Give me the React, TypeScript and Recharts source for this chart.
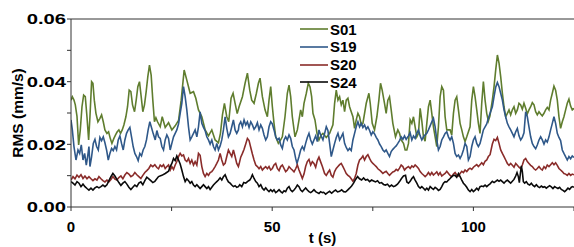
import React from 'react';
import { LineChart, Line, XAxis, YAxis, ReferenceLine, Legend, Label } from 'recharts';

const FONT = '"Liberation Sans", Arial, Helvetica, sans-serif';

const seriesNames = ['S01', 'S19', 'S20', 'S24'];
const seriesColors = ['#5f7d2e', '#2f5889', '#8a2c2a', '#0a0a0a'];
const xTicks = [0, 25, 50, 75, 100, 125];
const xTickLabels = [0, 50, 100];
const yTicks = [0, 0.01, 0.02, 0.03, 0.04, 0.05, 0.06];
const yTickLabels = [0, 0.02, 0.04, 0.06];

// [t (s), RMS in 1e-3 mm/s]
const s01 = [
[0,34.1],[0.33,35.2],[0.74,34.1],[1.07,32.6],[1.49,28.9],[1.9,19.8],[2.31,24.6],[2.73,32.0],[3.14,35.7],[3.55,35.2],[3.97,28.8],[4.38,21.4],[4.71,28.8],[5.12,40.0],[5.45,39.5],[5.79,34.1],[6.2,29.9],[6.69,27.2],[7.19,28.3],[7.6,29.4],[8.02,27.2],[8.43,24.6],[8.93,23.5],[9.34,24.0],[9.75,21.9],[10.17,20.3],[10.66,21.9],[11.07,23.0],[11.49,24.0],[11.9,24.6],[12.31,23.5],[12.73,24.6],[13.14,26.2],[13.64,28.8],[14.05,32.0],[14.46,37.3],[14.88,36.8],[15.29,32.6],[15.79,30.4],[16.2,34.1],[16.61,38.4],[17.02,40.0],[17.44,35.2],[17.85,30.4],[18.26,32.6],[18.68,36.8],[19.09,41.6],[19.5,45.3],[19.92,42.1],[20.33,34.1],[20.74,27.2],[21.1,28.5],[21.5,27.2],[22.17,25.6],[22.67,28.8],[23.41,25.4],[24.24,26.9],[25.06,24.6],[25.89,25.9],[26.72,27.6],[27.38,34.1],[28.12,43.7],[28.78,40.5],[29.61,36.3],[30.44,36.8],[31.02,34.7],[31.68,31.0],[32.51,28.8],[33.34,24.6],[34.16,22.7],[34.99,24.6],[35.82,21.4],[36.64,20.5],[37.14,23.5],[37.64,29.4],[38.13,33.1],[38.71,28.8],[39.2,27.2],[39.78,34.7],[40.28,36.3],[40.78,33.1],[41.3,29.8],[41.77,32.0],[42.6,35.2],[43.26,39.5],[43.84,42.7],[44.42,37.3],[44.91,34.1],[45.49,33.1],[46.07,36.3],[46.57,39.5],[46.98,41.1],[47.56,35.2],[48.22,31.0],[48.8,28.8],[49.21,34.1],[49.63,38.4],[50.04,32.0],[50.45,26.7],[50.87,22.4],[51.53,20.3],[52.1,21.4],[52.52,22.4],[53.18,28.8],[53.76,36.3],[54.18,38.9],[54.59,35.2],[55.0,28.8],[55.67,22.4],[56.25,24.6],[56.66,27.8],[57.07,31.0],[57.49,28.8],[57.9,33.1],[58.48,36.3],[58.97,39.5],[59.39,38.4],[59.8,35.2],[60.13,29.9],[60.63,27.8],[61.13,23.5],[61.62,21.4],[62.2,23.0],[62.61,23.5],[63.44,22.2],[64.27,23.5],[65.09,26.2],[65.51,33.1],[65.92,37.3],[66.34,34.1],[66.75,35.2],[67.16,32.6],[67.58,34.1],[67.99,30.4],[68.4,34.1],[68.82,34.7],[69.23,32.0],[69.64,30.4],[70.06,28.8],[70.47,25.1],[70.88,27.8],[71.3,29.9],[71.71,28.8],[72.13,26.2],[72.54,26.7],[73.37,33.1],[74.03,36.3],[74.36,33.1],[74.86,26.7],[75.43,24.6],[76.01,28.8],[76.51,34.1],[76.92,39.5],[77.33,37.3],[77.91,33.1],[78.32,29.9],[78.74,34.1],[79.15,35.2],[79.57,31.0],[79.98,26.7],[80.64,22.4],[81.22,24.6],[81.64,23.5],[82.05,21.4],[82.63,20.3],[83.04,18.2],[83.46,18.2],[83.87,20.3],[84.28,27.8],[84.7,26.7],[85.11,28.8],[85.52,25.6],[85.94,22.4],[86.35,23.5],[86.77,31.5],[87.18,27.5],[87.59,22.4],[88.0,21.0],[88.42,26.7],[88.83,32.0],[89.25,34.1],[89.66,29.9],[90.07,25.6],[90.49,22.4],[90.9,19.3],[91.31,25.6],[91.73,35.2],[92.14,38.4],[92.56,37.3],[92.97,28.8],[93.38,24.6],[94.21,24.6],[94.62,23.0],[95.04,29.9],[95.45,34.1],[95.86,35.2],[96.28,31.0],[96.69,26.7],[97.11,24.6],[97.52,22.4],[97.93,20.9],[98.35,22.4],[99.17,25.6],[99.59,34.1],[100.0,38.4],[100.41,35.2],[100.83,31.0],[101.24,26.7],[101.65,23.5],[102.07,33.1],[102.48,40.0],[102.9,34.1],[103.31,29.9],[103.72,27.5],[104.1,29.0],[104.71,34.1],[105.13,38.4],[105.54,43.7],[105.96,48.5],[106.37,45.9],[106.78,41.6],[107.2,36.3],[107.61,32.0],[108.02,28.8],[108.44,29.9],[108.85,31.0],[109.26,29.4],[109.68,31.0],[110.09,32.0],[110.51,29.9],[110.92,31.0],[111.33,33.1],[111.75,32.6],[112.16,31.2],[112.57,33.1],[112.99,31.5],[113.4,29.7],[113.81,31.0],[114.23,32.0],[114.64,33.3],[115.06,32.6],[115.47,30.4],[115.88,29.4],[116.3,30.4],[116.71,29.7],[117.12,29.1],[117.54,29.9],[117.95,31.0],[118.36,31.8],[118.78,31.0],[119.19,34.1],[119.61,36.3],[120.02,38.6],[120.43,37.3],[120.85,34.1],[121.26,28.8],[121.67,25.1],[122.09,27.2],[122.5,28.8],[122.92,31.0],[123.33,33.1],[123.74,34.4],[124.16,32.2],[124.57,31.0],[125,31.5]
];

const s19 = [
[0,27.8],[0.33,24.6],[0.74,19.3],[1.24,15.0],[1.74,18.2],[2.15,17.1],[2.56,19.8],[2.98,15.0],[3.39,17.1],[3.8,13.4],[4.13,16.1],[4.46,19.3],[4.71,12.9],[5.12,16.1],[5.54,20.3],[5.95,21.6],[6.36,19.3],[6.78,18.2],[7.19,22.2],[7.6,21.2],[8.02,22.4],[8.43,20.5],[8.84,18.2],[9.26,15.0],[9.67,17.1],[10.08,18.7],[10.5,18.0],[10.91,19.3],[11.32,18.2],[11.74,21.4],[12.15,22.7],[12.56,20.3],[12.98,18.2],[13.39,21.4],[13.8,23.5],[14.21,24.6],[14.63,25.4],[15.04,22.4],[15.45,19.3],[15.87,17.1],[16.28,16.1],[16.69,14.8],[17.11,17.1],[17.52,16.3],[17.93,18.2],[18.35,19.3],[18.76,21.4],[19.17,24.6],[19.59,27.2],[20.0,25.4],[20.41,23.5],[20.93,21.4],[21.34,24.4],[21.75,22.4],[22.17,21.9],[22.58,19.3],[22.99,18.2],[23.41,21.4],[23.82,23.0],[24.24,21.9],[24.65,18.2],[25.06,20.3],[25.48,22.4],[25.89,23.5],[26.3,24.6],[26.72,26.5],[27.13,29.9],[27.54,33.1],[27.96,38.4],[28.37,35.2],[28.78,31.0],[29.2,25.6],[29.61,21.4],[30.02,22.4],[30.44,23.5],[30.85,24.6],[31.27,22.4],[31.68,25.6],[32.09,30.4],[32.51,26.7],[32.92,25.4],[33.33,24.4],[33.75,22.4],[34.16,21.4],[34.57,20.1],[34.99,21.4],[35.4,19.3],[35.81,18.2],[36.23,20.3],[36.64,18.2],[37.06,19.5],[37.47,21.4],[37.88,24.6],[38.3,28.8],[38.71,25.1],[39.12,22.4],[39.54,23.5],[39.95,25.6],[40.36,27.8],[40.78,24.6],[41.19,23.5],[41.6,24.6],[41.77,26.2],[42.18,27.2],[42.6,25.6],[43.01,27.8],[43.42,26.2],[43.84,27.2],[44.25,25.4],[44.67,27.2],[45.08,26.2],[45.49,24.8],[45.91,25.6],[46.32,26.9],[46.73,24.6],[47.15,26.2],[47.56,25.1],[47.97,23.0],[48.39,21.4],[48.8,22.4],[49.21,25.6],[49.63,27.2],[50.04,26.5],[50.45,24.6],[50.87,22.4],[51.28,21.4],[51.7,21.9],[52.11,19.8],[52.52,18.7],[52.94,21.4],[53.35,22.4],[53.76,21.4],[54.18,23.0],[54.59,21.9],[55.0,19.3],[55.42,18.2],[55.83,15.5],[56.16,13.9],[56.66,16.1],[57.07,18.2],[57.49,19.3],[57.9,18.2],[58.31,20.3],[58.73,22.2],[59.14,23.5],[59.56,21.4],[59.97,20.1],[60.38,21.4],[60.8,22.7],[61.21,20.9],[61.62,24.6],[62.04,23.0],[62.61,21.4],[63.03,23.5],[63.44,25.6],[63.85,24.4],[64.27,20.3],[64.68,16.1],[65.09,18.2],[65.51,20.3],[65.92,22.2],[66.34,23.5],[66.75,21.4],[67.16,22.4],[67.58,23.5],[67.99,20.3],[68.4,19.0],[68.82,18.0],[69.23,18.7],[69.64,18.0],[70.06,21.4],[70.47,23.5],[70.88,25.6],[71.3,27.2],[71.71,25.6],[72.13,26.7],[72.54,25.4],[72.95,26.2],[73.37,24.8],[73.78,25.6],[74.2,24.4],[74.61,23.0],[75.02,24.0],[75.44,23.3],[75.85,22.2],[76.26,21.4],[76.68,20.1],[77.09,19.3],[77.51,18.2],[77.92,17.6],[78.32,18.2],[78.74,17.1],[79.15,16.1],[79.57,17.7],[79.98,18.4],[80.4,19.0],[80.81,19.5],[81.22,20.3],[81.64,21.2],[82.05,22.4],[82.47,21.6],[82.88,22.7],[83.29,21.6],[83.87,22.7],[84.28,23.7],[84.7,21.4],[85.11,22.7],[85.52,21.9],[85.94,23.5],[86.35,24.6],[86.77,22.7],[87.18,21.4],[87.59,22.4],[88.01,23.0],[88.42,23.5],[88.83,24.6],[89.25,25.9],[89.66,27.2],[90.07,28.3],[90.49,25.6],[90.9,21.4],[91.31,18.2],[91.73,19.3],[92.14,21.4],[92.56,22.4],[92.97,23.5],[93.38,24.0],[93.8,22.4],[94.21,21.4],[94.62,22.4],[95.04,20.3],[95.45,17.1],[95.86,16.1],[96.28,16.6],[96.69,15.5],[97.11,16.6],[97.52,18.2],[97.93,20.3],[98.35,19.3],[98.76,15.0],[99.17,16.1],[99.59,19.3],[100.0,21.4],[100.41,22.4],[100.83,20.3],[101.24,19.3],[101.65,20.3],[102.07,22.4],[102.48,24.6],[102.9,25.6],[103.31,26.5],[103.72,28.3],[104.14,29.9],[104.71,32.0],[105.13,35.2],[105.54,38.2],[105.96,39.7],[106.37,38.4],[106.78,36.3],[107.2,34.1],[107.61,31.0],[108.02,28.8],[108.44,26.7],[108.85,25.6],[109.26,24.6],[109.68,23.5],[110.09,22.4],[110.51,24.0],[110.92,25.1],[111.33,22.7],[111.75,21.4],[112.16,22.2],[112.57,23.7],[112.99,30.4],[113.4,28.8],[113.81,25.6],[114.23,22.4],[114.64,20.3],[115.06,19.3],[115.47,18.6],[115.88,19.8],[116.3,21.4],[116.71,22.4],[117.12,21.4],[117.54,20.1],[117.95,21.4],[118.36,20.7],[118.78,22.4],[119.19,24.6],[119.61,26.7],[120.02,28.8],[120.43,26.7],[120.85,23.5],[121.26,22.2],[121.67,21.2],[122.09,18.2],[122.5,17.1],[123.33,15.0],[123.74,16.1],[124.16,15.4],[124.57,16.3],[125,15.8]
];

const s20 = [
[0,8.6],[0.5,9.7],[0.99,9.0],[1.49,10.2],[1.98,9.5],[2.48,10.3],[2.98,9.1],[3.47,9.9],[3.97,9.0],[4.46,9.7],[4.96,9.0],[5.45,8.4],[5.95,9.0],[6.45,8.6],[6.94,9.7],[7.44,9.0],[7.93,8.4],[8.43,8.0],[8.93,8.6],[9.42,8.0],[9.92,8.8],[10.41,9.7],[10.91,8.9],[11.4,8.6],[11.9,9.4],[12.4,9.9],[12.89,9.0],[13.39,10.2],[13.88,11.0],[14.38,10.5],[14.88,9.7],[15.37,10.1],[15.87,11.0],[16.36,10.3],[16.86,9.7],[17.36,9.1],[17.85,10.1],[18.35,11.0],[18.84,11.6],[19.34,12.3],[19.83,13.4],[20.33,12.9],[20.83,13.5],[21.34,12.6],[21.75,12.2],[22.17,13.4],[22.58,12.9],[22.99,13.5],[23.41,12.3],[23.82,12.9],[24.24,13.4],[24.65,11.8],[25.06,12.9],[25.48,12.0],[25.89,13.4],[26.3,14.5],[26.72,16.1],[27.13,17.1],[27.54,16.3],[27.96,16.6],[28.37,15.0],[28.78,14.5],[29.2,15.5],[29.61,13.9],[30.02,15.0],[30.44,13.4],[30.85,14.5],[31.27,13.4],[31.68,17.1],[32.09,16.5],[32.51,12.9],[32.92,10.7],[33.33,9.7],[33.75,10.7],[34.16,10.1],[34.57,11.0],[34.99,11.3],[35.4,12.0],[35.81,12.9],[36.23,13.9],[36.64,15.0],[37.06,17.1],[37.47,15.0],[37.88,13.4],[38.3,13.9],[38.71,16.1],[39.12,18.2],[39.54,17.1],[39.95,16.1],[40.36,18.2],[40.78,16.1],[41.19,13.9],[41.6,12.9],[41.77,13.7],[42.18,15.9],[42.6,17.1],[43.01,18.4],[43.42,20.1],[43.84,21.9],[44.25,21.2],[44.67,19.0],[45.08,16.9],[45.49,15.0],[45.91,13.4],[46.32,12.9],[46.73,12.2],[47.15,12.9],[47.56,11.8],[47.97,12.4],[48.39,12.9],[48.8,12.2],[49.21,12.9],[49.63,11.8],[50.04,12.3],[50.45,13.4],[50.87,13.9],[51.28,12.3],[51.7,11.6],[52.11,12.9],[52.52,13.4],[52.94,12.3],[53.35,11.3],[53.76,11.8],[54.18,12.9],[54.59,12.3],[55.0,11.8],[55.42,11.2],[55.83,12.2],[56.25,13.4],[56.66,11.8],[57.07,10.5],[57.49,9.1],[57.9,10.5],[58.31,12.9],[58.73,14.5],[59.14,15.2],[59.56,13.4],[59.97,14.5],[60.38,13.9],[60.8,12.7],[61.21,14.8],[61.62,15.9],[62.04,14.4],[62.45,13.0],[63.03,10.7],[63.44,10.1],[63.85,11.0],[64.27,11.8],[64.68,10.1],[65.09,9.5],[65.51,11.3],[65.92,12.3],[66.34,12.9],[66.75,13.5],[67.16,13.9],[67.58,12.9],[67.99,11.8],[68.4,10.7],[68.82,10.1],[69.23,9.7],[69.64,9.0],[70.06,8.2],[70.47,9.1],[70.88,10.7],[71.3,13.4],[71.71,15.0],[72.13,15.5],[72.54,16.3],[72.95,15.0],[73.37,16.1],[73.78,16.7],[74.2,15.5],[74.61,14.5],[75.02,13.9],[75.44,13.4],[75.85,12.9],[76.26,12.2],[76.68,11.8],[77.09,11.3],[77.51,10.7],[77.92,11.1],[78.32,11.4],[78.74,10.7],[79.15,10.1],[79.57,10.7],[79.98,11.2],[80.4,11.4],[80.81,12.0],[81.22,11.6],[81.64,12.4],[82.05,13.4],[82.47,12.9],[82.88,11.8],[83.29,12.4],[83.87,12.9],[84.28,12.3],[84.7,13.1],[85.11,12.7],[85.52,13.4],[85.94,12.9],[86.35,12.3],[86.77,11.3],[87.18,10.7],[87.59,10.2],[88.01,9.7],[88.42,10.2],[88.83,11.0],[89.25,10.2],[89.66,11.0],[90.07,10.2],[90.49,10.7],[90.9,11.2],[91.31,10.2],[91.73,11.0],[92.14,9.9],[92.56,10.3],[92.97,10.7],[93.38,11.4],[93.8,10.7],[94.21,10.1],[94.62,9.7],[95.04,10.5],[95.45,11.0],[95.86,10.2],[96.28,9.9],[96.69,10.7],[97.11,11.4],[97.52,11.0],[97.93,11.8],[98.35,11.3],[98.76,12.0],[99.17,12.4],[99.59,12.0],[100.0,12.7],[100.41,13.1],[100.83,13.5],[101.24,12.9],[101.65,13.5],[102.07,14.1],[102.48,13.5],[102.9,14.6],[103.31,15.0],[103.72,16.1],[104.14,16.7],[104.71,20.1],[105.13,21.6],[105.54,21.2],[105.96,22.2],[106.37,20.3],[106.78,18.2],[107.2,17.1],[107.61,16.1],[108.02,15.0],[108.44,13.9],[108.85,13.3],[109.26,13.9],[109.68,13.3],[110.09,12.7],[110.51,13.9],[110.92,13.3],[111.33,12.7],[111.75,12.2],[112.16,13.4],[112.57,15.0],[112.99,15.5],[113.4,14.5],[113.81,13.9],[114.23,13.3],[114.64,12.9],[115.06,12.2],[115.47,11.8],[115.88,12.3],[116.3,12.9],[116.71,12.2],[117.12,11.8],[117.54,12.9],[117.95,12.3],[118.36,13.4],[118.78,12.9],[119.19,13.5],[119.61,14.1],[120.02,13.5],[120.43,14.1],[120.85,13.3],[121.26,12.3],[121.67,11.8],[122.09,11.3],[122.5,10.7],[122.92,10.5],[123.33,10.1],[123.74,10.7],[124.16,10.1],[124.57,10.5],[125,10.3]
];

const s24 = [
[0,8.1],[0.5,7.6],[0.99,7.0],[1.49,8.1],[1.98,7.6],[2.48,6.5],[2.98,7.3],[3.47,6.5],[3.97,5.9],[4.46,5.4],[4.96,6.0],[5.45,5.4],[5.95,6.1],[6.45,6.5],[6.94,6.1],[7.44,6.5],[7.93,7.0],[8.43,6.5],[8.93,7.1],[9.42,8.4],[9.92,9.7],[10.41,10.7],[10.91,9.9],[11.4,8.8],[11.9,7.8],[12.4,6.9],[12.89,7.6],[13.39,8.1],[13.88,7.3],[14.38,6.3],[14.88,5.6],[15.37,6.3],[15.87,7.0],[16.36,6.5],[16.86,7.6],[17.36,8.0],[17.85,7.1],[18.35,8.4],[18.84,9.5],[19.34,9.0],[19.83,8.4],[20.33,7.8],[20.83,8.2],[21.75,9.7],[22.58,10.1],[23.41,10.7],[24.24,11.4],[24.65,12.9],[25.06,13.9],[25.48,15.5],[25.89,14.8],[26.3,16.3],[26.72,15.0],[27.13,13.7],[27.54,11.8],[27.96,9.7],[28.37,8.1],[28.78,9.0],[29.2,8.4],[29.61,7.6],[30.02,8.1],[30.44,7.0],[30.85,6.5],[31.27,7.1],[31.68,6.5],[32.09,5.9],[32.51,6.5],[32.92,7.1],[33.33,6.5],[33.75,5.9],[34.16,6.5],[34.57,5.6],[34.99,6.3],[35.4,7.0],[35.81,7.6],[36.23,8.1],[36.64,8.6],[37.06,9.3],[37.47,8.6],[37.88,9.7],[38.3,10.3],[38.71,9.0],[39.12,8.0],[39.54,7.6],[39.95,7.0],[40.36,6.5],[40.78,6.8],[41.19,6.3],[41.6,6.5],[41.93,7.1],[42.43,6.5],[42.93,7.8],[43.42,7.6],[43.92,8.2],[44.42,8.6],[44.75,9.3],[45.08,10.3],[45.49,9.1],[45.91,8.1],[46.32,7.6],[46.73,6.5],[47.15,7.1],[47.56,6.0],[47.97,5.4],[48.39,6.1],[48.8,5.4],[49.21,4.9],[49.63,5.5],[50.04,4.9],[50.45,5.5],[50.87,4.6],[51.28,5.0],[51.7,5.5],[52.11,4.9],[52.52,4.5],[52.94,5.2],[53.35,4.9],[53.76,6.0],[54.18,6.5],[54.59,5.4],[55.0,4.9],[55.42,5.4],[55.83,6.1],[56.25,7.0],[56.66,6.5],[57.07,5.4],[57.49,4.9],[57.9,5.5],[58.31,6.1],[58.73,5.4],[59.14,4.9],[59.56,4.6],[59.97,5.0],[60.38,5.5],[60.8,4.9],[61.21,4.6],[61.62,4.3],[62.04,4.9],[62.45,4.6],[62.78,4.7],[63.28,4.1],[63.77,4.6],[64.27,5.0],[64.77,4.4],[65.26,5.0],[65.76,5.4],[66.25,4.8],[66.75,5.0],[67.25,5.5],[67.74,4.9],[68.24,4.8],[68.74,5.4],[69.23,6.0],[69.73,6.7],[70.22,7.6],[70.72,8.8],[71.22,9.7],[71.71,9.0],[72.21,8.6],[72.71,9.3],[73.2,8.6],[73.7,8.8],[74.2,8.1],[74.69,8.6],[75.19,8.3],[75.68,8.0],[76.18,8.4],[76.68,7.6],[77.17,7.8],[77.67,7.2],[78.16,7.0],[78.66,7.3],[79.15,6.5],[79.65,7.0],[80.15,6.5],[80.64,6.8],[81.14,7.3],[81.64,8.1],[82.13,9.1],[82.63,9.9],[83.13,10.1],[83.46,8.0],[83.87,7.6],[84.28,8.2],[84.7,9.1],[85.11,9.7],[85.52,8.6],[85.94,7.6],[86.35,6.5],[86.77,6.0],[87.18,6.5],[87.59,6.0],[88.01,5.4],[88.42,6.0],[88.83,5.4],[89.25,6.5],[89.66,6.0],[90.07,5.6],[90.49,6.3],[90.9,5.9],[91.31,5.3],[91.73,5.6],[92.14,6.5],[92.56,7.6],[92.97,8.1],[93.38,8.0],[93.8,8.6],[94.21,9.1],[94.62,9.7],[95.04,10.1],[95.45,10.1],[95.86,9.5],[96.28,10.7],[96.69,9.7],[97.11,8.6],[97.52,7.6],[97.93,7.0],[98.35,6.3],[98.76,5.4],[99.17,4.9],[99.59,5.6],[100.0,4.9],[100.41,5.4],[100.83,6.0],[101.24,5.4],[101.65,6.5],[102.07,6.7],[102.48,6.5],[102.9,7.0],[103.31,6.5],[103.72,7.0],[104.14,7.4],[104.71,8.2],[105.13,7.8],[105.54,8.2],[105.96,8.6],[106.37,8.2],[106.78,8.6],[107.2,8.1],[107.61,7.6],[108.02,8.2],[108.44,8.6],[108.85,8.1],[109.26,7.6],[109.68,8.2],[110.09,8.8],[110.51,9.9],[110.84,11.0],[111.17,9.7],[111.42,7.8],[111.67,10.7],[111.92,13.1],[112.16,11.3],[112.41,8.1],[112.74,7.6],[113.15,8.1],[113.57,7.3],[113.98,7.0],[114.4,7.6],[114.81,6.9],[115.22,6.5],[115.64,7.1],[116.05,6.5],[116.46,6.2],[116.88,6.7],[117.29,6.3],[117.71,6.5],[118.12,6.0],[118.53,6.4],[118.95,6.8],[119.36,6.4],[119.77,5.9],[120.19,6.5],[120.6,6.2],[121.01,5.9],[121.43,6.3],[121.84,5.6],[122.26,5.3],[122.67,4.9],[123.08,5.4],[123.5,6.0],[123.91,5.6],[124.33,6.3],[124.66,6.5],[125,6.3]
];

const seriesRaw = [s01, s19, s20, s24];
const toPoints = (arr: number[][]) => arr.map(([t, v]) => ({ t, v: v / 1000 }));

const XTick = (props: any) => {
  const { x, y, payload } = props;
  if (!xTickLabels.includes(payload.value)) return null;
  return (
    <text x={x} y={y} dy="0.71em" textAnchor="middle" fontFamily={FONT} fontWeight="bold" fontSize={15} fill="#000">
      {payload.value}
    </text>
  );
};

const YTick = (props: any) => {
  const { x, y, payload } = props;
  const v = payload.value;
  if (!yTickLabels.some((l) => Math.abs(l - v) < 1e-9)) return null;
  return (
    <g transform={`translate(${x}, ${y}) scale(1.35, 1)`}>
      <text x={0} y={0} dy="0.36em" textAnchor="end" fontFamily={FONT} fontWeight="bold" fontSize={15} fill="#000">
        {Number(v).toFixed(2)}
      </text>
    </g>
  );
};

const XLabel = (props: any) => {
  const vb = props.viewBox || { x: 71, y: 207, width: 503, height: 40 };
  return (
    <text x={vb.x + vb.width / 2} y={vb.y + 36} textAnchor="middle" fontFamily={FONT} fontWeight="bold" fontSize={15} fill="#000">
      t (s)
    </text>
  );
};

const YLabel = (props: any) => {
  const vb = props.viewBox || { x: 0, y: 19, width: 71, height: 188 };
  const cx = vb.x + 17;
  const cy = vb.y + vb.height / 2;
  return (
    <text x={cx} y={cy} transform={`rotate(-90, ${cx}, ${cy})`} textAnchor="middle" dominantBaseline="central" fontFamily={FONT} fontWeight="bold" fontSize={15.5} fill="#000">
      RMS (mm/s)
    </text>
  );
};

const renderLegend = (props: any) => {
  const { payload } = props;
  return (
    <div style={{ fontFamily: FONT, fontWeight: 'bold', fontSize: 15, color: '#000' }}>
      {(payload || []).map((entry: any) => (
        <div key={entry.value} style={{ display: 'flex', alignItems: 'center', height: 17.7 }}>
          <svg width={28} height={4} style={{ display: 'block' }}>
            <line x1={0} y1={2} x2={28} y2={2} stroke={entry.color} strokeWidth={1.6} />
          </svg>
          <span style={{ marginLeft: 2, lineHeight: '17.7px' }}>{entry.value}</span>
        </div>
      ))}
    </div>
  );
};

export default function App() {
  return (
    <div style={{ position: 'absolute', left: 0, top: 0, width: 574, height: 247, background: '#fff' }}>
      <LineChart width={574} height={247} margin={{ top: 19, right: 0, bottom: 0, left: 0 }}>
        <XAxis
          type="number"
          dataKey="t"
          domain={[0, 125]}
          ticks={xTicks}
          interval={0}
          height={40}
          tickSize={4}
          tickMargin={10}
          stroke="#333"
          tick={<XTick />}
          allowDataOverflow
        >
          <Label content={<XLabel />} />
        </XAxis>
        <YAxis
          type="number"
          domain={[0, 0.06]}
          ticks={yTicks}
          interval={0}
          width={71}
          tickSize={4}
          tickMargin={1}
          stroke="#333"
          tick={<YTick />}
          allowDataOverflow
        >
          <Label content={<YLabel />} />
        </YAxis>
        <ReferenceLine y={0.06} stroke="#333" />
        {seriesRaw.map((arr, i) => (
          <Line
            key={seriesNames[i]}
            name={seriesNames[i]}
            data={toPoints(arr)}
            dataKey="v"
            type="linear"
            stroke={seriesColors[i]}
            strokeWidth={1.6}
            dot={false}
            activeDot={false}
            isAnimationActive={false}
          />
        ))}
        <Legend
          layout="vertical"
          align="center"
          verticalAlign="middle"
          content={renderLegend}
          wrapperStyle={{ left: 300, top: 20.5, width: 80, height: 72 }}
        />
      </LineChart>
    </div>
  );
}
